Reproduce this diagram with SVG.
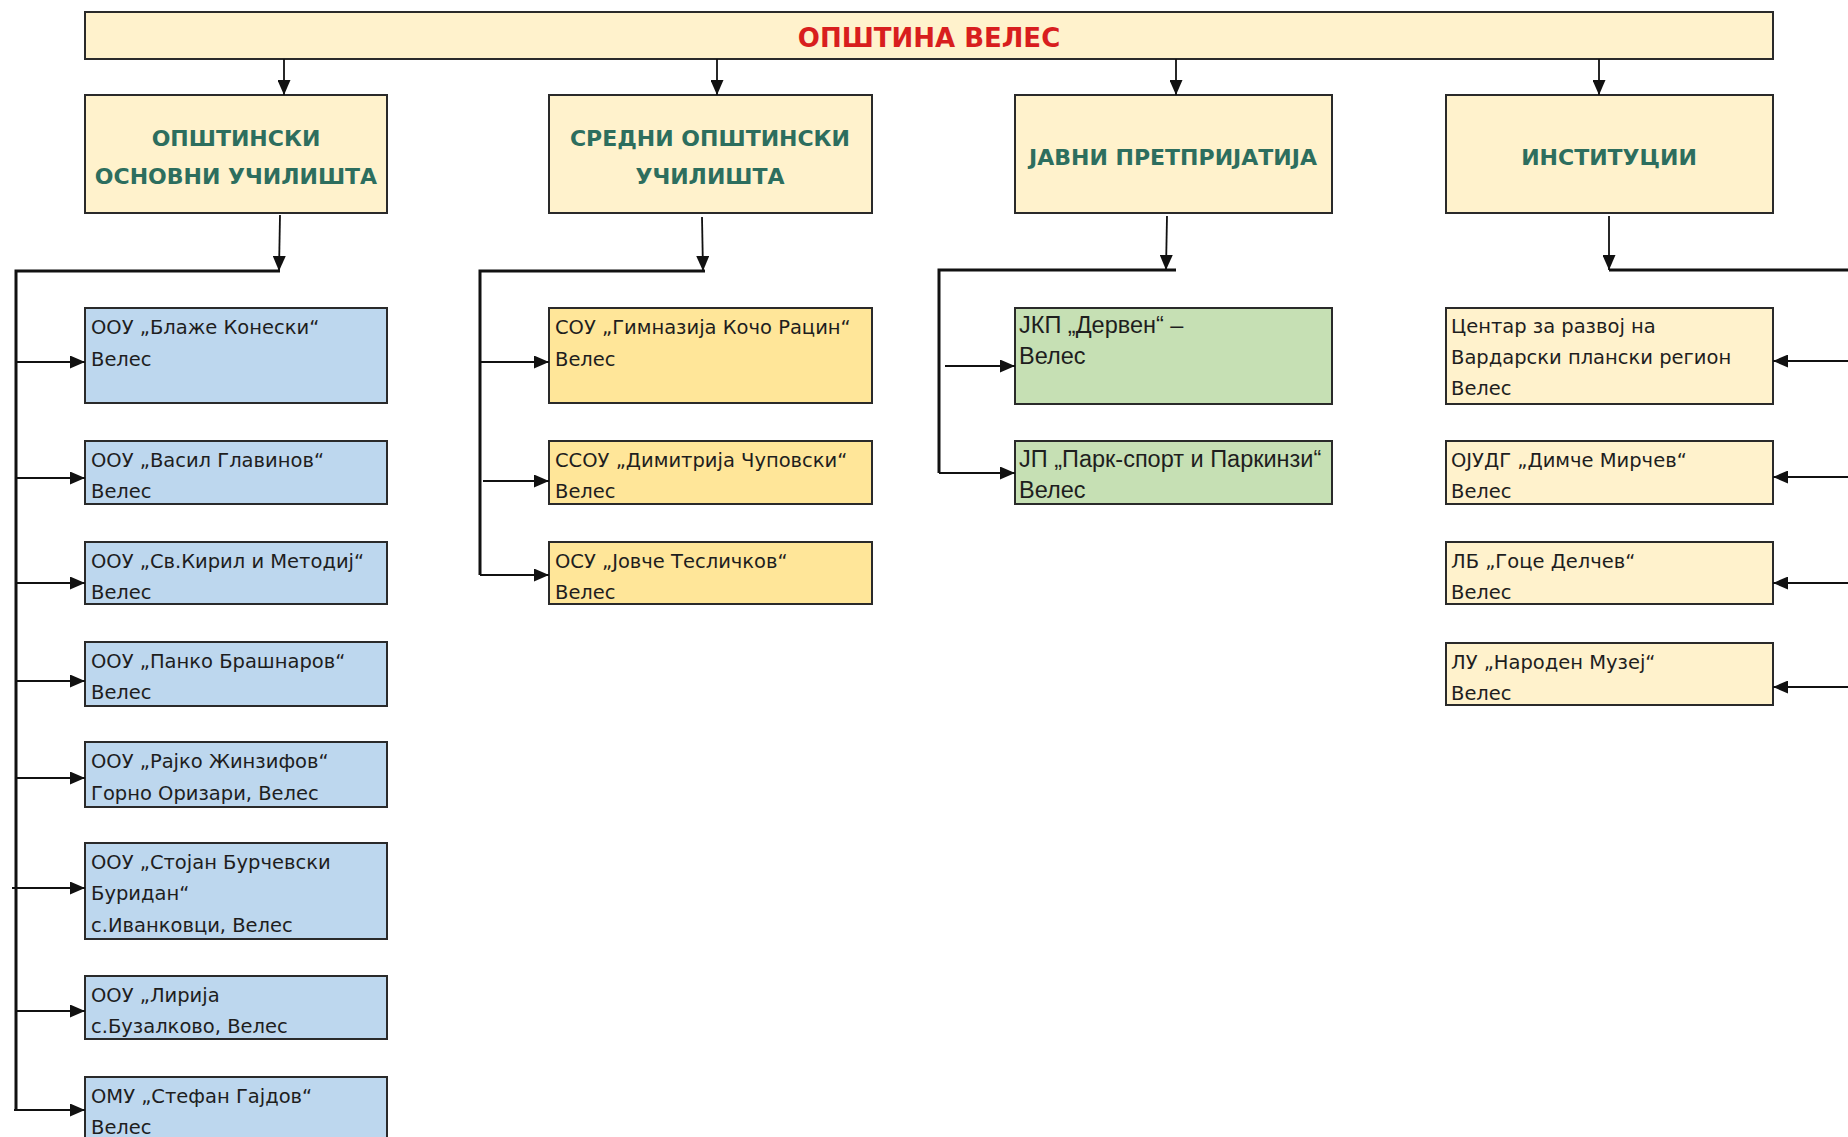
<svg xmlns="http://www.w3.org/2000/svg" width="1848" height="1137" viewBox="0 0 1848 1137">
<defs>
<marker id="ah" markerUnits="userSpaceOnUse" markerWidth="15" markerHeight="13" refX="15" refY="6.5" orient="auto">
<path d="M0,0 L15,6.5 L0,13 Z" fill="#111"/>
</marker>
<style>
.box{stroke:#2a2a2a;stroke-width:2}
.cream{fill:#FFF2CC}
.blue{fill:#BDD7EE}
.gold{fill:#FFE699}
.green{fill:#C6E0B4}
.title{font-family:"DejaVu Sans",sans-serif;font-weight:bold;font-size:26px;fill:#D81E1E;text-anchor:middle}
.hdr{font-family:"DejaVu Sans",sans-serif;font-weight:bold;font-size:22px;fill:#2D6E5E;text-anchor:middle}
.t{font-family:"DejaVu Sans",sans-serif;font-size:19.5px;fill:#1e1e1e}
.n{font-family:"Liberation Sans",Arial,sans-serif;font-size:23.5px;fill:#1e1e1e}
.c{fill:none;stroke:#111;stroke-width:1.8}
.bus{fill:none;stroke:#111;stroke-width:3}
</style>
</defs>
<rect width="1848" height="1137" fill="#fff"/>

<g id="top">
<rect class="box cream" x="85" y="12" width="1688" height="47"/>
<text class="title" x="929" y="47">ОПШТИНА ВЕЛЕС</text>
</g>

<g id="h1"><rect class="box cream" x="85" y="95" width="302" height="118"/>
<text class="hdr" x="236" y="146">ОПШТИНСКИ</text><text class="hdr" x="236" y="184">ОСНОВНИ УЧИЛИШТА</text></g>
<g id="h2"><rect class="box cream" x="549" y="95" width="323" height="118"/>
<text class="hdr" x="710" y="146">СРЕДНИ ОПШТИНСКИ</text><text class="hdr" x="710" y="184">УЧИЛИШТА</text></g>
<g id="h3"><rect class="box cream" x="1015" y="95" width="317" height="118"/>
<text class="hdr" x="1173" y="165">ЈАВНИ ПРЕТПРИЈАТИЈА</text></g>
<g id="h4"><rect class="box cream" x="1446" y="95" width="327" height="118"/>
<text class="hdr" x="1609" y="165">ИНСТИТУЦИИ</text></g>

<g id="c1n1"><rect class="box blue" x="85" y="308" width="302" height="95"/><text class="t" x="91" y="334">ООУ „Блаже Конески“</text><text class="t" x="91" y="366">Велес</text></g>
<g id="c1n2"><rect class="box blue" x="85" y="441" width="302" height="63"/><text class="t" x="91" y="467">ООУ „Васил Главинов“</text><text class="t" x="91" y="498">Велес</text></g>
<g id="c1n3"><rect class="box blue" x="85" y="542" width="302" height="62"/><text class="t" x="91" y="568">ООУ „Св.Кирил и Методиј“</text><text class="t" x="91" y="599">Велес</text></g>
<g id="c1n4"><rect class="box blue" x="85" y="642" width="302" height="64"/><text class="t" x="91" y="668">ООУ „Панко Брашнаров“</text><text class="t" x="91" y="699">Велес</text></g>
<g id="c1n5"><rect class="box blue" x="85" y="742" width="302" height="65"/><text class="t" x="91" y="768">ООУ „Рајко Жинзифов“</text><text class="t" x="91" y="800">Горно Оризари, Велес</text></g>
<g id="c1n6"><rect class="box blue" x="85" y="843" width="302" height="96"/><text class="t" x="91" y="869">ООУ „Стојан Бурчевски</text><text class="t" x="91" y="900">Буридан“</text><text class="t" x="91" y="932">с.Иванковци, Велес</text></g>
<g id="c1n7"><rect class="box blue" x="85" y="976" width="302" height="63"/><text class="t" x="91" y="1002">ООУ „Лирија</text><text class="t" x="91" y="1033">с.Бузалково, Велес</text></g>
<g id="c1n8"><rect class="box blue" x="85" y="1077" width="302" height="70"/><text class="t" x="91" y="1103">ОМУ „Стефан Гајдов“</text><text class="t" x="91" y="1134">Велес</text></g>

<g id="c2n1"><rect class="box gold" x="549" y="308" width="323" height="95"/><text class="t" x="555" y="334">СОУ „Гимназија Кочо Рацин“</text><text class="t" x="555" y="366">Велес</text></g>
<g id="c2n2"><rect class="box gold" x="549" y="441" width="323" height="63"/><text class="t" x="555" y="467">ССОУ „Димитрија Чуповски“</text><text class="t" x="555" y="498">Велес</text></g>
<g id="c2n3"><rect class="box gold" x="549" y="542" width="323" height="62"/><text class="t" x="555" y="568">ОСУ „Јовче Тесличков“</text><text class="t" x="555" y="599">Велес</text></g>

<g id="c3n1"><rect class="box green" x="1015" y="308" width="317" height="96"/><text class="n" x="1019" y="333">ЈКП „Дервен“ –</text><text class="n" x="1019" y="364">Велес</text></g>
<g id="c3n2"><rect class="box green" x="1015" y="441" width="317" height="63"/><text class="n" x="1019" y="467">ЈП „Парк-спорт и Паркинзи“</text><text class="n" x="1019" y="498">Велес</text></g>

<g id="c4n1"><rect class="box cream" x="1446" y="308" width="327" height="96"/><text class="t" x="1451" y="333">Центар за развој на</text><text class="t" x="1451" y="364">Вардарски плански регион</text><text class="t" x="1451" y="395">Велес</text></g>
<g id="c4n2"><rect class="box cream" x="1446" y="441" width="327" height="63"/><text class="t" x="1451" y="467">ОЈУДГ „Димче Мирчев“</text><text class="t" x="1451" y="498">Велес</text></g>
<g id="c4n3"><rect class="box cream" x="1446" y="542" width="327" height="62"/><text class="t" x="1451" y="568">ЛБ „Гоце Делчев“</text><text class="t" x="1451" y="599">Велес</text></g>
<g id="c4n4"><rect class="box cream" x="1446" y="643" width="327" height="62"/><text class="t" x="1451" y="669">ЛУ „Народен Музеј“</text><text class="t" x="1451" y="700">Велес</text></g>

<g id="connectors">
<line class="c" x1="284" y1="59" x2="284" y2="95" marker-end="url(#ah)"/>
<line class="c" x1="717" y1="59" x2="717" y2="95" marker-end="url(#ah)"/>
<line class="c" x1="1176" y1="59" x2="1176" y2="95" marker-end="url(#ah)"/>
<line class="c" x1="1599" y1="59" x2="1599" y2="95" marker-end="url(#ah)"/>

<line class="c" x1="280" y1="215" x2="279" y2="271" marker-end="url(#ah)"/>
<path class="bus" d="M280,271 H16 V1110"/>
<line class="c" x1="16" y1="362" x2="85" y2="362" marker-end="url(#ah)"/>
<line class="c" x1="16" y1="478" x2="85" y2="478" marker-end="url(#ah)"/>
<line class="c" x1="16" y1="583" x2="85" y2="583" marker-end="url(#ah)"/>
<line class="c" x1="16" y1="681" x2="85" y2="681" marker-end="url(#ah)"/>
<line class="c" x1="16" y1="778" x2="85" y2="778" marker-end="url(#ah)"/>
<line class="c" x1="12" y1="888" x2="85" y2="888" marker-end="url(#ah)"/>
<line class="c" x1="16" y1="1011" x2="85" y2="1011" marker-end="url(#ah)"/>
<line class="c" x1="14" y1="1110" x2="85" y2="1110" marker-end="url(#ah)"/>

<line class="c" x1="702" y1="217" x2="703" y2="271" marker-end="url(#ah)"/>
<path class="bus" d="M705,271 H480 V575"/>
<line class="c" x1="480" y1="362" x2="549" y2="362" marker-end="url(#ah)"/>
<line class="c" x1="483" y1="481" x2="549" y2="481" marker-end="url(#ah)"/>
<line class="c" x1="480" y1="575" x2="549" y2="575" marker-end="url(#ah)"/>

<line class="c" x1="1167" y1="216" x2="1166" y2="270" marker-end="url(#ah)"/>
<path class="bus" d="M1176,270 H939 V473"/>
<line class="c" x1="945" y1="366" x2="1015" y2="366" marker-end="url(#ah)"/>
<line class="c" x1="939" y1="473" x2="1015" y2="473" marker-end="url(#ah)"/>

<line class="c" x1="1609" y1="216" x2="1609" y2="270" marker-end="url(#ah)"/>
<path class="bus" d="M1609,270 H1848"/>
<line class="c" x1="1848" y1="361" x2="1773" y2="361" marker-end="url(#ah)"/>
<line class="c" x1="1848" y1="477" x2="1773" y2="477" marker-end="url(#ah)"/>
<line class="c" x1="1848" y1="583" x2="1773" y2="583" marker-end="url(#ah)"/>
<line class="c" x1="1848" y1="687" x2="1773" y2="687" marker-end="url(#ah)"/>
</g>
</svg>
